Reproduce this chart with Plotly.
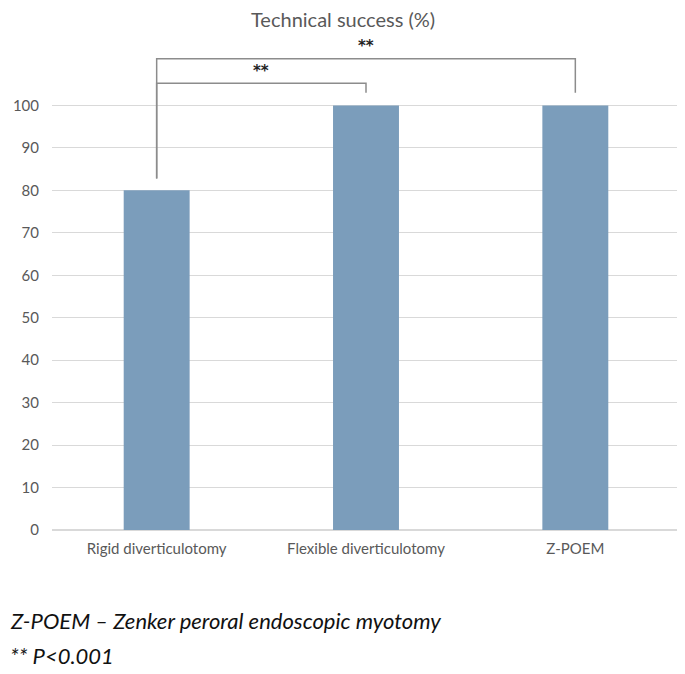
import plotly.graph_objects as go

categories = ["Rigid diverticulotomy", "Flexible diverticulotomy", "Z-POEM"]
success = [80, 100, 100]
y_ticks = [0, 10, 20, 30, 40, 50, 60, 70, 80, 90, 100]
# significance brackets: (from index, to index, level, label)
brackets = [(0, 1, 105.2, "**"), (0, 2, 111.0, "**")]
footnotes = ["Z-POEM – Zenker peroral endoscopic myotomy", "** P<0.001"]

FONT = "Lato, 'Open Sans', sans-serif"
GRAY = "#595959"

fig = go.Figure()
fig.add_trace(go.Bar(x=list(range(len(categories))), y=success,
                     marker=dict(color="#7b9dbb", line=dict(width=0)),
                     width=0.315))

for i0, i1, lvl, lab in brackets:
    left_bottom = success[i0] + 2.8
    right_bottom = success[i1] + 3
    fig.add_trace(go.Scatter(x=[i0, i0, i1, i1], y=[left_bottom, lvl, lvl, right_bottom],
                             mode="lines", line=dict(color="#8c8c8c", width=1.5),
                             hoverinfo="skip"))
    fig.add_annotation(x=(i0 + i1) / 2, y=lvl + 2.9, text="<b>" + lab + "</b>", showarrow=False,
                       font=dict(family="DejaVu Sans", size=15, color="#222"), yanchor="middle")

fig.add_annotation(xref="paper", yref="paper", x=-0.07, y=-0.181, xanchor="left",
                   yanchor="middle", showarrow=False, text="<i>" + footnotes[0] + "</i>",
                   font=dict(family=FONT, size=22, color="#111"))
fig.add_annotation(xref="paper", yref="paper", x=-0.07, y=-0.25, xanchor="left",
                   yanchor="middle", showarrow=False, text="<i>" + footnotes[1] + "</i>",
                   font=dict(family=FONT, size=22, color="#111"))

fig.update_layout(
    width=677, height=666,
    margin=dict(l=44, r=5, t=20.5, b=144),
    paper_bgcolor="white", plot_bgcolor="white",
    showlegend=False,
    title=dict(text="Technical success (%)", x=0.495, xanchor="center", y=0.982, yanchor="middle",
               xref="container", font=dict(family=FONT, size=20, color=GRAY)),
    xaxis=dict(tickmode="array", tickvals=list(range(len(categories))), ticktext=categories,
               range=[-0.5, 2.5], showgrid=False, zeroline=False, showline=False,
               tickfont=dict(family=FONT, size=15, color=GRAY), ticks="", ticklabelstandoff=8),
    yaxis=dict(range=[0, 118], tickmode="array", tickvals=y_ticks, showgrid=True,
               gridcolor="#d9d9d9", gridwidth=1, zeroline=True, zerolinecolor="#d9d9d9",
               showline=False, ticks="", ticklabelstandoff=12,
               tickfont=dict(family=FONT, size=15, color=GRAY)),
)

fig.write_html("out.html")
